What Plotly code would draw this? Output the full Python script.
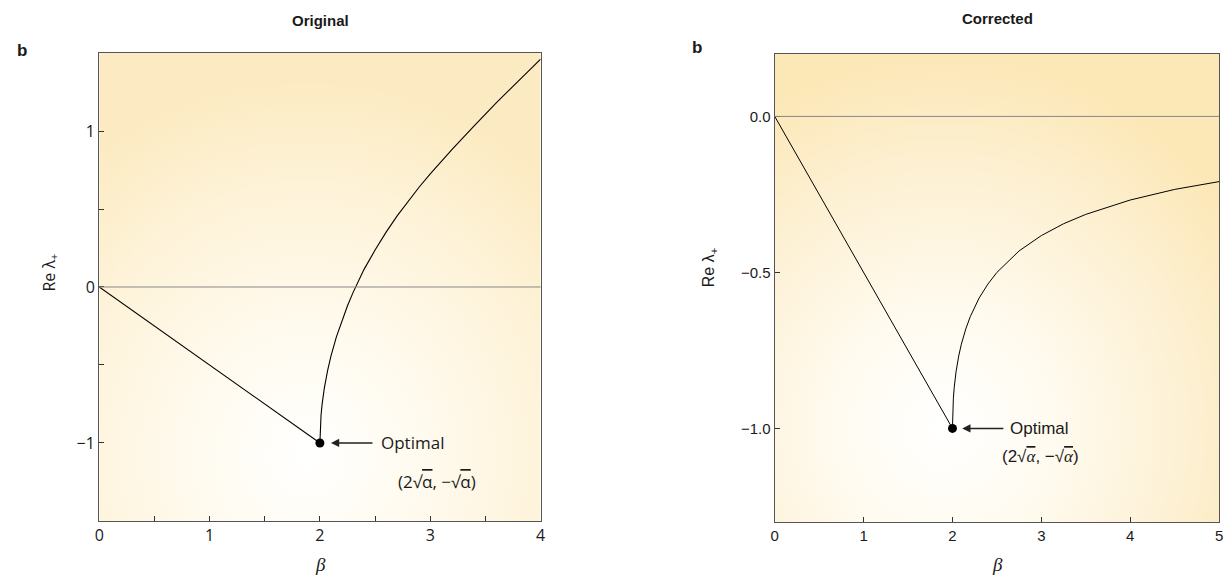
import base64
import plotly.graph_objects as go

# values
orig_line_x = [0, 2]
orig_line_y = [0, -1]
orig_curve_x = [2, 2.005, 2.01, 2.02, 2.04, 2.07, 2.1, 2.15, 2.2, 2.25, 2.3, 2.4, 2.5,
                2.6, 2.7, 2.8, 2.9, 3.0, 3.2, 3.4, 3.6, 3.8, 4.0]
orig_curve_y = [-1, -0.876, -0.824, -0.751, -0.648, -0.534, -0.443, -0.318, -0.213, -0.12,
                -0.036, 0.113, 0.237, 0.352, 0.456, 0.552, 0.641, 0.725, 0.884, 1.035,
                1.182, 1.321, 1.461]

corr_line_x = [0, 2]
corr_line_y = [0, -1]
corr_curve_x = [2, 2.002, 2.005, 2.01, 2.02, 2.04, 2.07, 2.1, 2.15, 2.2, 2.3, 2.4, 2.5,
                2.75, 3.0, 3.25, 3.5, 4.0, 4.5, 5.0]
corr_curve_y = [-1, -0.956, -0.932, -0.905, -0.868, -0.819, -0.768, -0.73, -0.681, -0.642,
                -0.582, -0.537, -0.5, -0.431, -0.382, -0.344, -0.314, -0.268, -0.234, -0.209]

optimal_x = [2]
optimal_y = [-1]

orig_xticks = [0, 0.5, 1, 1.5, 2, 2.5, 3, 3.5, 4]
orig_xlabels = ["0", "", "1", "", "2", "", "3", "", "4"]
orig_yticks = [-1.5, -1, -0.5, 0, 0.5, 1, 1.5]
orig_ylabels = ["", "\u22121", "", "0", "", "1", ""]
corr_xticks = [0, 1, 2, 3, 4, 5]
corr_yticks = [0.0, -0.5, -1.0]
corr_ylabels = ["0.0", "\u22120.5", "\u22121.0"]


def gradient(cx, cy, r, edge, mid):
    svg = ('<svg xmlns="http://www.w3.org/2000/svg" width="200" height="200" '
           'viewBox="0 0 200 200" preserveAspectRatio="none">'
           '<defs><radialGradient id="g" cx="%s" cy="%s" r="%s">'
           '<stop offset="0" stop-color="#ffffff"/>'
           '<stop offset="0.3" stop-color="#fffbf0"/>'
           '<stop offset="0.7" stop-color="%s"/>'
           '<stop offset="1" stop-color="%s"/></radialGradient></defs>'
           '<rect width="200" height="200" fill="url(#g)"/></svg>') % (cx, cy, r, mid, edge)
    return "data:image/svg+xml;base64," + base64.b64encode(svg.encode()).decode()


sans1 = "Open Sans"
sans2 = "Liberation Sans"
ink = "#1a1a1a"

fig = go.Figure()

fig.add_trace(go.Scatter(x=orig_line_x, y=orig_line_y, mode="lines",
                         line=dict(color="black", width=1.1), xaxis="x", yaxis="y"))
fig.add_trace(go.Scatter(x=orig_curve_x, y=orig_curve_y, mode="lines",
                         line=dict(color="black", width=1.1), xaxis="x", yaxis="y"))
fig.add_trace(go.Scatter(x=optimal_x, y=optimal_y, mode="markers",
                         marker=dict(color="black", size=9), xaxis="x", yaxis="y"))

fig.add_trace(go.Scatter(x=corr_line_x, y=corr_line_y, mode="lines",
                         line=dict(color="black", width=1), xaxis="x2", yaxis="y2"))
fig.add_trace(go.Scatter(x=corr_curve_x, y=corr_curve_y, mode="lines",
                         line=dict(color="black", width=1), xaxis="x2", yaxis="y2"))
fig.add_trace(go.Scatter(x=optimal_x, y=optimal_y, mode="markers",
                         marker=dict(color="black", size=9), xaxis="x2", yaxis="y2"))

axis_common = dict(showgrid=False, zeroline=False, showline=True, linecolor="#555",
                   linewidth=1.2, mirror=True, ticks="inside", ticklen=5,
                   tickcolor="#333", tickwidth=1)

fig.update_layout(
    width=1232, height=577,
    margin=dict(l=0, r=0, t=0, b=0),
    paper_bgcolor="white",
    plot_bgcolor="rgba(0,0,0,0)",
    showlegend=False,
    xaxis=dict(domain=[0.0771, 0.4383], range=[0, 4], tickvals=orig_xticks,
               ticktext=orig_xlabels, tickfont=dict(family=sans1, size=16, color=ink),
               anchor="y", **axis_common),
    yaxis=dict(domain=[0.0971, 0.9081], range=[-1.5, 1.5], tickvals=orig_yticks,
               ticktext=orig_ylabels, tickfont=dict(family=sans1, size=16, color=ink),
               anchor="x", **axis_common),
    xaxis2=dict(domain=[0.6299, 0.9935], range=[0, 5], tickvals=corr_xticks,
                tickfont=dict(family=sans2, size=15, color=ink),
                anchor="y2", **axis_common),
    yaxis2=dict(domain=[0.0953, 0.9064], range=[-1.3, 0.2], tickvals=corr_yticks,
                ticktext=corr_ylabels, tickfont=dict(family=sans2, size=15, color=ink),
                anchor="x2", **axis_common),
)

fig.add_layout_image(source=gradient(0.47, 0.86, 0.8, "#fcebc2", "#fef3d9"),
                     xref="x domain", yref="y domain",
                     x=0, y=1, sizex=1, sizey=1, sizing="stretch", layer="below")
fig.add_layout_image(source=gradient(0.38, 0.8, 0.8, "#fce7b6", "#fdf0d2"),
                     xref="x2 domain", yref="y2 domain",
                     x=0, y=1, sizex=1, sizey=1, sizing="stretch", layer="below")

fig.add_shape(type="line", x0=0, x1=1, xref="x domain", y0=0, y1=0, yref="y",
              line=dict(color="#888", width=1))
fig.add_shape(type="line", x0=0, x1=1, xref="x2 domain", y0=0, y1=0, yref="y2",
              line=dict(color="#888", width=1))

ov = "<span style='text-decoration:overline'>%s</span>"

notes = [
    dict(text="<b>Original</b>", x=0.2581, y=0.9653, font=dict(family=sans2, size=15)),
    dict(text="<b>Corrected</b>", x=0.8125, y=0.9688, font=dict(family=sans2, size=15)),
    dict(text="<b>b</b>", x=0.0138, y=0.9133, font=dict(family=sans2, size=17)),
    dict(text="<b>b</b>", x=0.5666, y=0.9185, font=dict(family=sans2, size=17)),
    dict(text="Re \u03bb<sub>+</sub>", x=0.0365, y=0.5269, textangle=-90,
         font=dict(family=sans1, size=16)),
    dict(text="Re \u03bb<sub>+</sub>", x=0.5763, y=0.5355, textangle=-90,
         font=dict(family=sans2, size=16)),
    dict(text="<i>\u03b2</i>", x=0.2581, y=0.0225, font=dict(family="Liberation Serif", size=19)),
    dict(text="<i>\u03b2</i>", x=0.8125, y=0.0225, font=dict(family="Liberation Serif", size=19)),
]
for n in notes:
    n["xref"] = "paper"
    n["yref"] = "paper"
    n["xanchor"] = "center"
    n["yanchor"] = "middle"
    n["showarrow"] = False
    n["font"]["color"] = ink
    fig.add_annotation(**n)

# arrows and labels at the optimum
fig.add_annotation(x=2.1, y=-1, ax=2.49, ay=-1, xref="x", yref="y", axref="x", ayref="y",
                   text="", showarrow=True, arrowhead=2, arrowsize=1.1, arrowwidth=1.5,
                   arrowcolor="#222")
fig.add_annotation(x=2.54, y=-1, xref="x", yref="y", xanchor="left", yanchor="middle",
                   showarrow=False, text="Optimal", font=dict(family=sans1, size=17, color=ink))
fig.add_annotation(x=3.06, y=-1.25, xref="x", yref="y", xanchor="center", yanchor="middle",
                   showarrow=False,
                   text="(2\u221a" + ov % "\u03b1" + ", \u2212\u221a" + ov % "\u03b1" + ")",
                   font=dict(family=sans1, size=17, color=ink))

fig.add_annotation(x=2.11, y=-1, ax=2.59, ay=-1, xref="x2", yref="y2", axref="x2", ayref="y2",
                   text="", showarrow=True, arrowhead=2, arrowsize=1.1, arrowwidth=1.5,
                   arrowcolor="#222")
fig.add_annotation(x=2.63, y=-1, xref="x2", yref="y2", xanchor="left", yanchor="middle",
                   showarrow=False, text="Optimal", font=dict(family=sans2, size=17, color=ink))
alpha_i = "<span style='font-family:Liberation Serif;text-decoration:overline'><i>\u03b1</i></span>"
fig.add_annotation(x=2.99, y=-1.09, xref="x2", yref="y2", xanchor="center", yanchor="middle",
                   showarrow=False,
                   text="(2\u221a" + alpha_i + ", \u2212\u221a" + alpha_i + ")",
                   font=dict(family=sans2, size=17, color=ink))

fig.write_html("out.html", config={"displayModeBar": False},
               post_script="document.body.style.margin='0';")
